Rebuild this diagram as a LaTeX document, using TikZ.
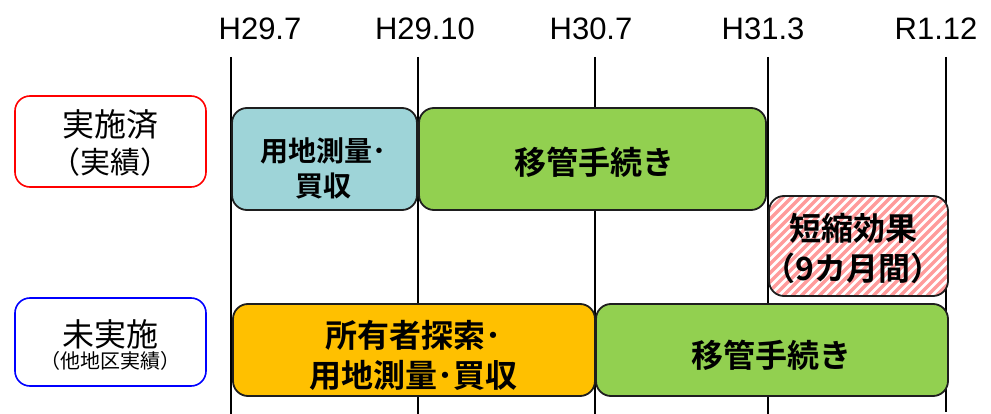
\documentclass[tikz,border=0pt]{standalone}
\usepackage{fontspec}
\setmainfont{Liberation Sans}
\newfontfamily\cjk{Noto Sans CJK JP}
\newfontfamily\cjkb{Noto Sans CJK JP Bold}
\definecolor{lineblack}{RGB}{0,0,0}
\definecolor{edge}{RGB}{30,30,30}
\definecolor{aquafill}{RGB}{158,212,216}
\definecolor{greenfill}{RGB}{146,208,80}
\definecolor{orangefill}{RGB}{255,192,0}
\definecolor{stripe}{RGB}{255,155,155}
\definecolor{labred}{RGB}{255,0,0}
\definecolor{labblue}{RGB}{0,0,255}
\tikzset{
  grid line/.style={draw=lineblack, line width=2pt},
  date/.style={anchor=base, inner sep=0pt, font=\fontsize{31}{31}\selectfont},
  phase/.style={draw=edge, line width=1.8pt, rounded corners=15pt, inner sep=0pt},
  phasetext/.style={align=center, inner sep=0pt, font=\cjkb\fontsize{32}{40}\selectfont},
  legend box/.style={line width=1.6pt, rounded corners=15pt, inner sep=0pt, fill=white},
  hatched/.style={path picture={
      \foreach \i in {-220,-211,...,220}
        \draw[stripe, line width=3.4pt]
          ([xshift=\i pt]path picture bounding box.south west) -- ++(260pt,260pt);
  }},
}
\begin{document}
\begin{tikzpicture}[x=1pt,y=-1pt]
\useasboundingbox (0,0) rectangle (991,414);
% time axis
\coordinate (t1top) at (231,57);  \coordinate (t1bot) at (231,414);
\coordinate (t2top) at (418,57);  \coordinate (t2bot) at (418,414);
\coordinate (t3top) at (595,57);  \coordinate (t3bot) at (595,414);
\coordinate (t4top) at (768,57);  \coordinate (t4bot) at (768,414);
\coordinate (t5top) at (946,57);  \coordinate (t5bot) at (946,412);
\foreach \k in {1,...,5} \draw[grid line] (t\k top) -- (t\k bot);
\node[date] (d1) at (260,40) {H29.7};
\node[date] (d2) at (425,40) {H29.10};
\node[date] (d3) at (591,40) {H30.7};
\node[date] (d4) at (763,40) {H31.3};
\node[date] (d5) at (936,40) {R1.12};
% legend boxes
\node[legend box, draw=labred, minimum width=191pt, minimum height=91pt] (done) at (110.5,141.5) {};
\node[align=center, inner sep=0pt, font=\cjk] (donet) at (110,143)
  {{\fontsize{32}{32}\selectfont 実施済}\\[7pt]{\fontsize{30}{30}\selectfont （実績）}};
\node[legend box, draw=labblue, minimum width=191pt, minimum height=88pt] (notyet) at (110.5,342) {};
\node[align=center, inner sep=0pt, font=\cjk] (notyett) at (110,345)
  {{\fontsize{32}{32}\selectfont 未実施}\\[2pt]{\fontsize{20}{20}\selectfont （他地区実績）}};
% upper row
\node[phase, fill=aquafill, minimum width=185pt, minimum height=102pt] (survey) at (324.5,159) {};
\node[phasetext, font=\cjkb\fontsize{28}{35}\selectfont] (surveyt) at (323,168) {用地測量･\\買収};
\node[phase, fill=greenfill, minimum width=347pt, minimum height=102pt] (transA) at (592.5,159) {};
\node[phasetext] (transAt) at (594,162) {移管手続き};
\node[phase, fill=white, hatched, minimum width=179pt, minimum height=100pt] (short) at (858.5,246) {};
\node[phasetext] (shortt) at (853,248) {短縮効果\\（9カ月間）};
% lower row
\node[phase, fill=orangefill, minimum width=362pt, minimum height=92pt] (search) at (414,350) {};
\node[phasetext] (searcht) at (413,355) {所有者探索･\\用地測量･買収};
\node[phase, fill=greenfill, minimum width=352pt, minimum height=92pt] (transB) at (772,350) {};
\node[phasetext] (transBt) at (771,355) {移管手続き};
\end{tikzpicture}
\end{document}
